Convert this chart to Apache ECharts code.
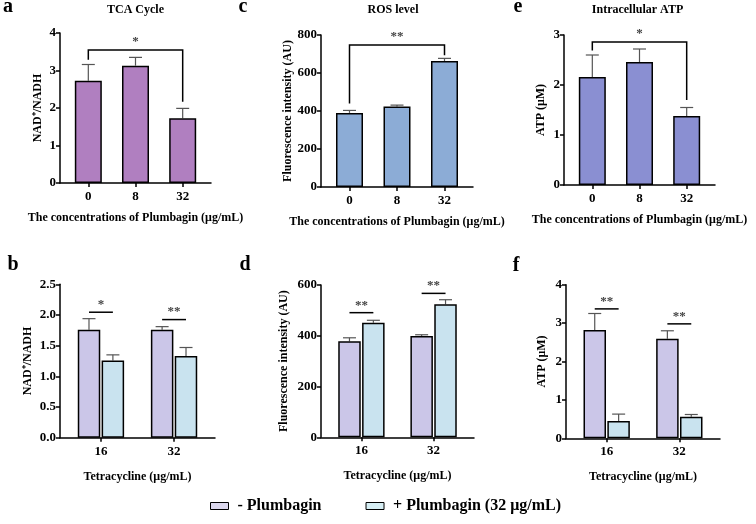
<!DOCTYPE html>
<html>
<head>
<meta charset="utf-8">
<script src="https://cdn.jsdelivr.net/npm/echarts@6/dist/echarts.min.js"></script>
<style>html,body{margin:0;padding:0;background:#fff}#c{width:756px;height:524px}</style>
</head>
<body>
<div id="c"></div>
<script>
// ---- data ----
const catsTop = ['0', '8', '32'];
const catsBottom = ['16', '32'];
const tcaMean = [2.73, 3.13, 1.73];
const tcaSD = [0.43, 0.22, 0.26];
const rosMean = [390, 424, 663];
const rosSD = [13, 7, 14];
const atpMean = [2.16, 2.46, 1.38];
const atpSD = [0.44, 0.26, 0.17];
const nadMinus = [1.76, 1.76];
const nadMinusSD = [0.18, 0.05];
const nadPlus = [1.26, 1.33];
const nadPlusSD = [0.09, 0.14];
const fluMinus = [378, 399];
const fluMinusSD = [14, 5];
const fluPlus = [451, 524];
const fluPlusSD = [10, 18];
const atpMinus = [2.82, 2.59];
const atpMinusSD = [0.43, 0.21];
const atpPlus = [0.45, 0.56];
const atpPlusSD = [0.18, 0.06];
// brackets for top row: [from, to, lineY, leftEndY, rightEndY, label]
const bracketA = [0, 2, 3.55, 3.29, 2.17, '*'];
const bracketC = [0, 2, 747, 440, 694, '**'];
const bracketE = [0, 2, 2.86, 2.69, 1.70, '*'];
// pair lines bottom row: [category, lineY, label]
const sigB = [[0, 2.045, '*'], [1, 1.925, '**']];
const sigD = [[0, 491, '**'], [1, 567, '**']];
const sigF = [[0, 3.37, '**'], [1, 2.98, '**']];

// ---- styles ----
const FONT = '"Liberation Serif", "Times New Roman", serif';
const colA = '#b07fc0', colC = '#8cacd6', colE = '#8a8fd2';
const colMinus = '#cbc6e8', colPlus = '#c9e3ef';
const BAR_W3 = 27, BAR_W2 = 22.5, GAP2 = 1.4;
const PAIR_OFF = BAR_W2 / 2 + GAP2 / 2;
const AXIS_COLOR = '#000';

const grids = [
  {left: 60, top: 33, width: 151, height: 150},
  {left: 321, top: 35, width: 152, height: 152},
  {left: 564, top: 35, width: 151, height: 150},
  {left: 60, top: 284.3, width: 155, height: 153.4},
  {left: 321, top: 285, width: 153, height: 152.3},
  {left: 566, top: 284.7, width: 154, height: 153.6}
];

function tickStyle() { return {show: true, length: 4, lineStyle: {color: '#000', width: 1.5}}; }
function labelFont() { return {fontFamily: FONT, fontWeight: 'bold', fontSize: 13, color: '#000'}; }

function xAxis(idx, cats, name, nameGap) {
  const n = cats.length;
  const pad = n === 3 ? 0.6 : 0.56;
  const vals = cats.map((c, i) => i);
  return {
    gridIndex: idx, type: 'value', min: -pad, max: n - 1 + pad,
    axisLine: {show: true, onZero: false, lineStyle: {color: AXIS_COLOR, width: 1.5}},
    axisTick: Object.assign({customValues: vals}, tickStyle()),
    axisLabel: Object.assign({customValues: vals, margin: 7, formatter: v => cats[Math.round(v)]}, labelFont()),
    splitLine: {show: false},
    name: name, nameLocation: 'middle', nameGap: nameGap,
    nameTextStyle: {fontFamily: FONT, fontWeight: 'bold', fontSize: 12, color: '#000'}
  };
}
function yAxis(idx, max, interval, name, nameGap, dec) {
  return {
    gridIndex: idx, type: 'value', min: 0, max: max, interval: interval,
    axisLine: {show: true, onZero: false, lineStyle: {color: AXIS_COLOR, width: 1.5}},
    axisTick: tickStyle(),
    axisLabel: Object.assign({margin: 4, formatter: v => dec ? v.toFixed(1) : String(v)}, labelFont()),
    splitLine: {show: false},
    name: name, nameLocation: 'middle', nameGap: nameGap, nameRotate: 90,
    nameTextStyle: {fontFamily: FONT, fontWeight: 'bold', fontSize: 12, color: '#000'}
  };
}

function barSeries(idx, means, color, width, name, gap) {
  return {
    type: 'bar', name: name, xAxisIndex: idx, yAxisIndex: idx,
    data: means.map((v, i) => [i, v]),
    barWidth: width, barGap: gap || '0%',
    itemStyle: {color: color, borderColor: '#000', borderWidth: 1.5},
    silent: true, z: 2
  };
}
function errSeries(idx, means, sds, offPx) {
  return {
    type: 'custom', xAxisIndex: idx, yAxisIndex: idx, z: 1, silent: true,
    data: means.map((v, i) => [i, v, v + sds[i]]),
    renderItem: function (params, api) {
      const p0 = api.coord([api.value(0), api.value(1)]);
      const p1 = api.coord([api.value(0), api.value(2)]);
      const x = p0[0] + offPx;
      return {type: 'group', children: [
        {type: 'line', shape: {x1: x, y1: p0[1], x2: x, y2: p1[1]}, style: {stroke: '#555', lineWidth: 1.2}},
        {type: 'line', shape: {x1: x - 6.5, y1: p1[1], x2: x + 6.5, y2: p1[1]}, style: {stroke: '#555', lineWidth: 1.2}}
      ]};
    }
  };
}
function bracketSeries(idx, b) {
  return {
    type: 'custom', xAxisIndex: idx, yAxisIndex: idx, z: 3, silent: true,
    data: [b.slice(0, 5)],
    renderItem: function (params, api) {
      const l = api.coord([api.value(0), api.value(2)]);
      const r = api.coord([api.value(1), api.value(2)]);
      const le = api.coord([api.value(0), api.value(3)]);
      const re = api.coord([api.value(1), api.value(4)]);
      return {type: 'group', children: [
        {type: 'polyline', shape: {points: [[le[0], le[1]], [l[0], l[1]], [r[0], r[1]], [re[0], re[1]]]},
          style: {stroke: '#000', lineWidth: 1.5, fill: null}},
        {type: 'text', style: {text: b[5], x: (l[0] + r[0]) / 2, y: l[1] - 2, textAlign: 'center', textVerticalAlign: 'bottom',
          font: 'bold 13px ' + FONT, fill: '#444'}}
      ]};
    }
  };
}
function pairSeries(idx, sig) {
  return {
    type: 'custom', xAxisIndex: idx, yAxisIndex: idx, z: 3, silent: true,
    data: sig.map(s => [s[0], s[1]]),
    renderItem: function (params, api) {
      const p = api.coord([api.value(0), api.value(1)]);
      const lab = sig[params.dataIndex][2];
      return {type: 'group', children: [
        {type: 'line', shape: {x1: p[0] - PAIR_OFF, y1: p[1], x2: p[0] + PAIR_OFF, y2: p[1]}, style: {stroke: '#000', lineWidth: 1.5}},
        {type: 'text', style: {text: lab, x: p[0], y: p[1] - 1, textAlign: 'center', textVerticalAlign: 'bottom',
          font: 'bold 13px ' + FONT, fill: '#444'}}
      ]};
    }
  };
}

const xTitle = 'The concentrations of Plumbagin (μg/mL)';
const xTitle2 = 'Tetracycline (μg/mL)';
const minusName = '- Plumbagin';
const plusName = '+ Plumbagin (32 μg/mL)';

function title(text, x, y, size) {
  return {text: text, left: x, top: y, textAlign: 'center', padding: 0,
    textStyle: {fontFamily: FONT, fontWeight: 'bold', fontSize: size, color: '#000'}};
}

const option = {
  animation: false,
  backgroundColor: '#fff',
  title: [
    title('a', 8, -3, 20), title('c', 243, -3, 20), title('e', 518, -3, 20),
    title('b', 13, 255, 20), title('d', 245, 255, 20), title('f', 516, 256, 20),
    title('TCA Cycle', 135.5, 4, 12), title('ROS level', 393, 4, 12), title('Intracellular ATP', 637.5, 4, 12)
  ],
  legend: {
    left: 210, top: 498, padding: 0, itemWidth: 18, itemHeight: 7, itemGap: 44,
    icon: 'rect',
    textStyle: {fontFamily: FONT, fontWeight: 'bold', fontSize: 16, color: '#000', padding: [0, 0, 0, 4]},
    data: [
      {name: minusName, itemStyle: {color: '#dcd8ee', borderColor: '#000', borderWidth: 1}},
      {name: plusName, itemStyle: {color: '#d6eef4', borderColor: '#000', borderWidth: 1}}
    ]
  },
  grid: grids,
  xAxis: [
    xAxis(0, catsTop, xTitle, 29), xAxis(1, catsTop, xTitle, 29), xAxis(2, catsTop, xTitle, 29),
    xAxis(3, catsBottom, xTitle2, 33), xAxis(4, catsBottom, xTitle2, 33), xAxis(5, catsBottom, xTitle2, 33)
  ],
  yAxis: [
    yAxis(0, 4, 1, 'NAD⁺/NADH', 16), yAxis(1, 800, 200, 'Fluorescence intensity (AU)', 27), yAxis(2, 3, 1, 'ATP (μM)', 17),
    yAxis(3, 2.5, 0.5, 'NAD⁺/NADH', 26, true), yAxis(4, 600, 200, 'Fluorescence intensity (AU)', 31), yAxis(5, 4, 1, 'ATP (μM)', 18)
  ],
  series: [
    barSeries(0, tcaMean, colA, BAR_W3, 'tca'), errSeries(0, tcaMean, tcaSD, 0), bracketSeries(0, bracketA),
    barSeries(1, rosMean, colC, BAR_W3, 'ros'), errSeries(1, rosMean, rosSD, 0), bracketSeries(1, bracketC),
    barSeries(2, atpMean, colE, BAR_W3, 'atp'), errSeries(2, atpMean, atpSD, 0), bracketSeries(2, bracketE),
    barSeries(3, nadMinus, colMinus, BAR_W2, minusName, '6%'), barSeries(3, nadPlus, colPlus, BAR_W2, plusName, '6%'),
    errSeries(3, nadMinus, nadMinusSD, -PAIR_OFF), errSeries(3, nadPlus, nadPlusSD, PAIR_OFF), pairSeries(3, sigB),
    barSeries(4, fluMinus, colMinus, BAR_W2, minusName, '6%'), barSeries(4, fluPlus, colPlus, BAR_W2, plusName, '6%'),
    errSeries(4, fluMinus, fluMinusSD, -PAIR_OFF), errSeries(4, fluPlus, fluPlusSD, PAIR_OFF), pairSeries(4, sigD),
    barSeries(5, atpMinus, colMinus, BAR_W2, minusName, '6%'), barSeries(5, atpPlus, colPlus, BAR_W2, plusName, '6%'),
    errSeries(5, atpMinus, atpMinusSD, -PAIR_OFF), errSeries(5, atpPlus, atpPlusSD, PAIR_OFF), pairSeries(5, sigF)
  ]
};
const chart = echarts.init(document.getElementById('c'), null, {renderer: 'canvas'});
chart.setOption(option);
</script>
</body>
</html>
